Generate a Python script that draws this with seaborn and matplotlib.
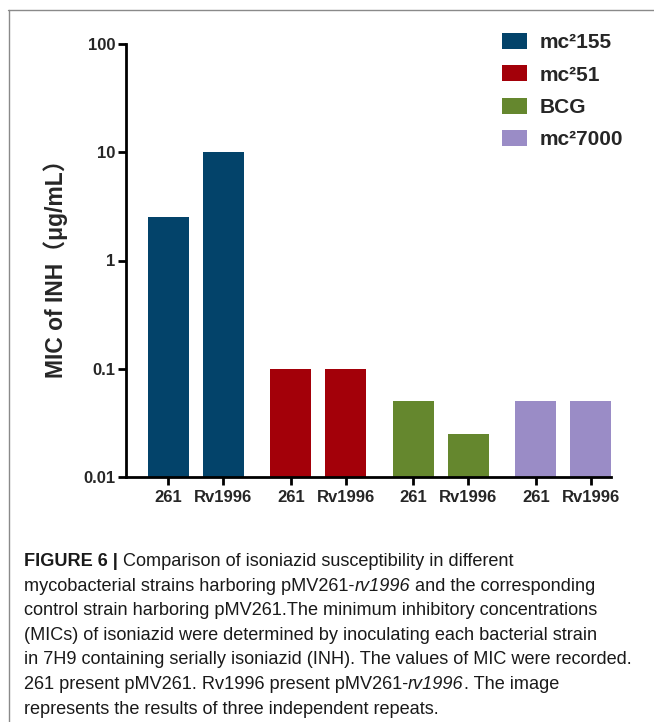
import numpy as np
import pandas as pd
import seaborn as sns
import matplotlib
matplotlib.use("Agg")
import matplotlib.pyplot as plt
from matplotlib.patches import Patch
from matplotlib.lines import Line2D
from matplotlib.transforms import IdentityTransform

# ---------------- data ----------------
strains = ["mc2155", "mc251", "BCG", "mc27000"]
strain_labels = ["mc²155", "mc²51", "BCG", "mc²7000"]
plasmids = ["261", "Rv1996"]
mic_261 = [2.5, 0.1, 0.05, 0.05]
mic_rv1996 = [10, 0.1, 0.025, 0.05]
colors = ["#03436A", "#A30009", "#65872E", "#9A8CC6"]
yticks = [0.01, 0.1, 1, 10, 100]
ytick_labels = ["0.01", "0.1", "1", "10", "100"]
ylabel = "MIC of INH（μg/mL）"

caption_lines = [
    [("FIGURE 6 | ", "bold"), ("Comparison of isoniazid susceptibility in different", "normal")],
    [("mycobacterial strains harboring pMV261-", "normal"), ("rv1996", "italic"),
     (" and the corresponding", "normal")],
    [("control strain harboring pMV261.The minimum inhibitory concentrations", "normal")],
    [("(MICs) of isoniazid were determined by inoculating each bacterial strain", "normal")],
    [("in 7H9 containing serially isoniazid (INH). The values of MIC were recorded.", "normal")],
    [("261 present pMV261. Rv1996 present pMV261-", "normal"), ("rv1996", "italic"),
     (". The image", "normal")],
    [("represents the results of three independent repeats.", "normal")],
]

df = pd.DataFrame({
    "strain": strains * 2,
    "plasmid": [plasmids[0]] * 4 + [plasmids[1]] * 4,
    "mic": mic_261 + mic_rv1996,
})

# ---------------- style ----------------
sns.set_style("white")
plt.rcParams["font.family"] = ["Liberation Sans", "Noto Sans CJK SC", "DejaVu Sans"]
cap_family = "Liberation Sans"

W, H = 654, 722
fig = plt.figure(figsize=(W / 100, H / 100), dpi=100)
ax_left, ax_right, ax_top, ax_bot = 126, 611, 44, 477
ax = fig.add_axes([ax_left / W, 1 - ax_bot / H, (ax_right - ax_left) / W, (ax_bot - ax_top) / H])

sns.barplot(data=df, x="strain", y="mic", hue="plasmid", order=strains,
            hue_order=plasmids, width=0.894, gap=0.25, errorbar=None,
            legend=False, ax=ax, log_scale=(False, True))

for cont in ax.containers:
    for bar, c in zip(cont, colors):
        bar.set_facecolor(c)
        bar.set_edgecolor("none")

centers, labels = [], []
for cont, p in zip(ax.containers, plasmids):
    for bar in cont:
        centers.append(bar.get_x() + bar.get_width() / 2)
        labels.append(p)
order = np.argsort(centers)
centers = [centers[i] for i in order]
labels = [labels[i] for i in order]

ax.set_yscale("log")
ax.set_ylim(0.01, 100)
ax.set_xlim(-0.57, 3.39)
ax.set_yticks(yticks)
ax.set_yticklabels(ytick_labels)
ax.yaxis.set_minor_locator(matplotlib.ticker.NullLocator())
ax.set_xticks(centers)
ax.set_xticklabels(labels)
ax.set_xlabel("")
ax.set_ylabel("")
for s in ["top", "right"]:
    ax.spines[s].set_visible(False)
for s in ["left", "bottom"]:
    ax.spines[s].set_linewidth(2)
    ax.spines[s].set_color("black")
ax.tick_params(axis="both", which="major", length=6, width=2, color="black",
               direction="out", labelsize=12, left=True, bottom=True)
ax.tick_params(axis="y", pad=1.5)
ax.tick_params(axis="x", pad=3)
for t in ax.get_xticklabels() + ax.get_yticklabels():
    t.set_fontweight("bold")
ax.patch.set_alpha(0)

# y label
fig.text(56 / W, 1 - 263 / H, ylabel, rotation=90, ha="center", va="center",
         fontsize=16.5, fontweight="bold",
         family=["Liberation Sans", "Noto Sans CJK SC"])

# legend
handles = [Patch(facecolor=c, edgecolor="none") for c in colors]
fig.legend(handles, strain_labels, loc="upper left",
           bbox_to_anchor=(502 / W, 1 - 33 / H), frameon=False,
           prop={"family": "Liberation Sans", "weight": "bold", "size": 15},
           handlelength=1.2, handleheight=0.82,
           handletextpad=0.62, labelspacing=0.62, borderaxespad=0,
           borderpad=0)

# frame lines
fig.add_artist(Line2D([8, W], [H - 10, H - 10], transform=IdentityTransform(),
                      color="#8a8a8a", lw=1))
fig.add_artist(Line2D([9, 9], [0, H - 10], transform=IdentityTransform(),
                      color="#8a8a8a", lw=1))

# caption
renderer = fig.canvas.get_renderer()
probe = fig.text(0, 0, caption_lines[4][0][0], fontsize=10, family=cap_family)
pw = probe.get_window_extent(renderer).width
probe.remove()
cap_size = 10 * 612 / pw
x0 = 24
for i, segs in enumerate(caption_lines):
    yb = 566 + 24.6 * i
    x = x0
    for txt, st in segs:
        t = fig.text(x, H - yb, txt, transform=IdentityTransform(),
                     fontsize=cap_size, family=cap_family,
                     fontweight="bold" if st == "bold" else "normal",
                     fontstyle="italic" if st == "italic" else "normal",
                     va="baseline", ha="left", color="#1a1a1a")
        x += t.get_window_extent(renderer).width

fig.savefig("out.png", dpi=100)
